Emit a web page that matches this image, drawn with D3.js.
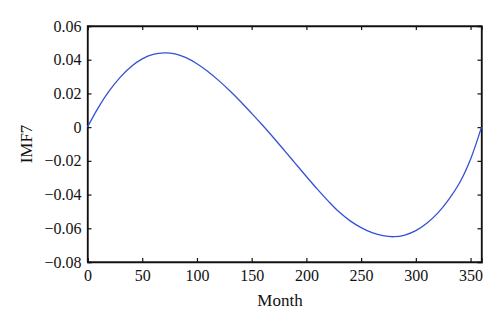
<!DOCTYPE html>
<html>
<head>
<meta charset="utf-8">
<script src="https://cdn.jsdelivr.net/npm/d3@7"></script>
<style>
  html, body { margin: 0; padding: 0; background: #fff; }
  svg { display: block; }
  text { font-family: "Liberation Serif", "DejaVu Serif", serif; fill: #111; }
</style>
</head>
<body>
<svg id="chart" width="500" height="329"></svg>
<script>
// IMF7 component over months
const months = [0, 10, 20, 30, 40, 50, 60, 70, 80, 90, 100, 110, 120, 130, 140, 150,
  160, 170, 180, 190, 200, 210, 220, 230, 240, 250, 260, 270, 280, 290, 300, 310,
  320, 330, 340, 350, 360];
const imf7 = [0, 0.0117, 0.0216, 0.0297, 0.0360, 0.0405, 0.0432, 0.0441, 0.0435, 0.0412,
  0.0376, 0.0330, 0.0276, 0.0216, 0.0151, 0.0082, 0.0011, -0.0063, -0.0139, -0.0216,
  -0.0293, -0.0368, -0.0439, -0.0504, -0.0556, -0.0596, -0.0626, -0.0644, -0.0650,
  -0.0640, -0.0614, -0.0570, -0.0510, -0.0430, -0.0330, -0.0190, 0.0000];
const xTicks = [0, 50, 100, 150, 200, 250, 300, 350];
const yTicks = [0.06, 0.04, 0.02, 0, -0.02, -0.04, -0.06, -0.08];

const svg = d3.select("#chart");
const plotL = 87.5, plotR = 481.5, plotT = 26, plotB = 262;

const x = d3.scaleLinear().domain([0, 360]).range([plotL, plotR]);
const y = d3.scaleLinear().domain([-0.08, 0.06]).range([plotB, plotT]);

const fmtY = d => d === 0 ? "0" : d3.format(".2f")(d).replace("-", "\u2212");

// axes with inward ticks on all four sides
const tickLen = 4;
svg.append("g").attr("transform", `translate(0,${plotB})`)
  .call(d3.axisBottom(x).tickValues(xTicks).tickSize(-tickLen).tickPadding(8).tickFormat(d3.format("d")));
svg.append("g").attr("transform", `translate(0,${plotT})`)
  .call(d3.axisTop(x).tickValues(xTicks).tickSize(-tickLen).tickFormat(""));
svg.append("g").attr("transform", `translate(${plotL},0)`)
  .call(d3.axisLeft(y).tickValues(yTicks).tickSize(-tickLen).tickPadding(6).tickFormat(fmtY));
svg.append("g").attr("transform", `translate(${plotR},0)`)
  .call(d3.axisRight(y).tickValues(yTicks).tickSize(-tickLen).tickFormat(""));

svg.selectAll(".domain").attr("stroke", "#111").attr("stroke-width", 1.3);
svg.selectAll(".tick line").attr("stroke", "#111").attr("stroke-width", 1.2);
svg.selectAll(".tick text").attr("font-size", 16).attr("fill", "#111")
  .attr("font-family", "Liberation Serif, DejaVu Serif, serif");

// close the box
svg.append("rect").attr("x", plotL).attr("y", plotT)
  .attr("width", plotR - plotL).attr("height", plotB - plotT)
  .attr("fill", "none").attr("stroke", "#111").attr("stroke-width", 1.3);

// curve
const line = d3.line().x((d, i) => x(months[i])).y(d => y(d)).curve(d3.curveCatmullRom);
svg.append("path").datum(imf7)
  .attr("d", line).attr("fill", "none")
  .attr("stroke", "#3352d4").attr("stroke-width", 1.3);

// axis titles
svg.append("text").attr("x", 280).attr("y", 306).attr("text-anchor", "middle")
  .attr("font-size", 17).text("Month");
svg.append("text").attr("transform", `translate(32,144) rotate(-90)`)
  .attr("text-anchor", "middle").attr("font-size", 17).text("IMF7");
</script>
</body>
</html>
